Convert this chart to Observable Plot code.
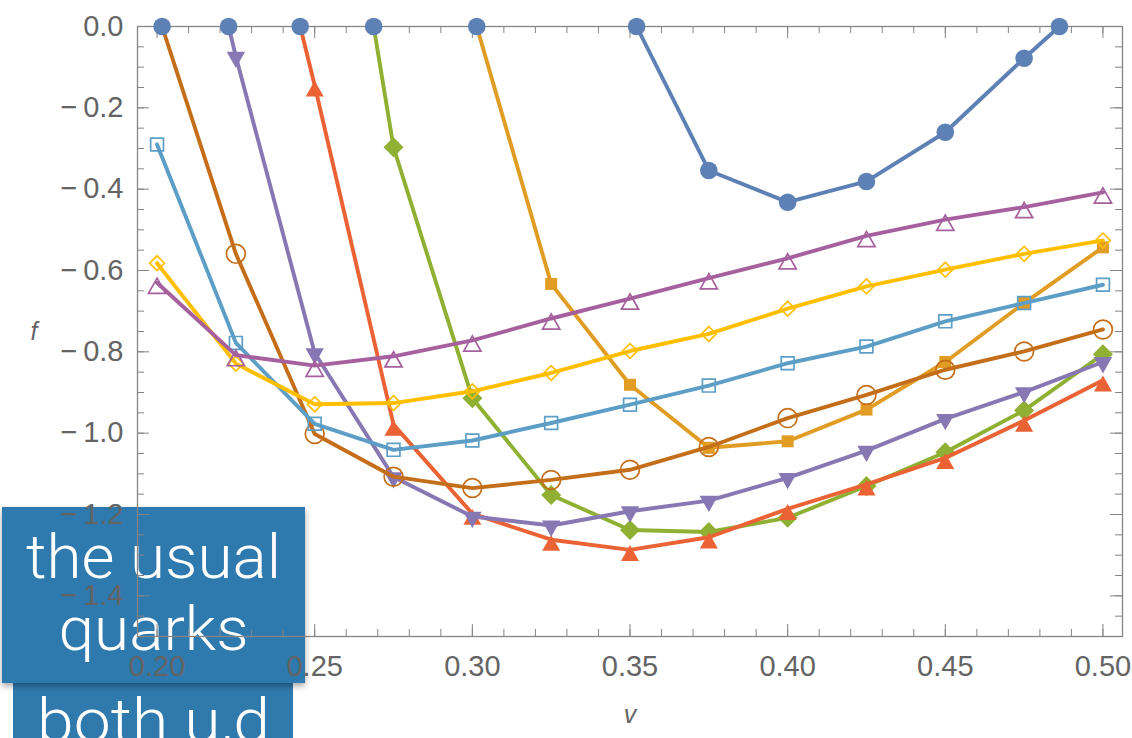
<!DOCTYPE html>
<html><head><meta charset="utf-8">
<script src="https://cdn.jsdelivr.net/npm/d3@7"></script>
<script src="https://cdn.jsdelivr.net/npm/@observablehq/plot@0.6"></script>
<style>
html,body{margin:0;padding:0;background:#fff;}
#wrap{position:relative;width:1132px;height:738px;overflow:hidden;background:#fff;}
#wrap svg{position:absolute;left:0;top:0;}
</style></head><body>
<div id="wrap"></div>
<script>
// ---------- data ----------
const v = [0.200,0.225,0.250,0.275,0.300,0.325,0.350,0.375,0.400,0.425,0.450,0.475,0.500];
const fBlue      = [null,null,null,null,null,null,null,-0.354,-0.432,-0.381,-0.260,-0.078,null];
const fOrange    = [null,null,null,null,null,-0.633,-0.881,-1.036,-1.020,-0.942,-0.825,-0.680,-0.543];
const fGreen     = [null,null,null,-0.297,-0.914,-1.152,-1.238,-1.243,-1.208,-1.130,-1.047,-0.944,-0.806];
const fRed       = [null,null,-0.145,-0.979,-1.198,-1.262,-1.287,-1.256,-1.186,-1.126,-1.061,-0.969,-0.870];
const fPurple    = [null,-0.074,-0.803,-1.108,-1.205,-1.227,-1.192,-1.166,-1.110,-1.043,-0.965,-0.899,-0.825];
const fBrown     = [null,-0.559,-1.002,-1.107,-1.135,-1.115,-1.090,-1.034,-0.963,-0.906,-0.844,-0.799,-0.745];
const fLightBlue = [-0.290,-0.778,-0.977,-1.041,-1.018,-0.975,-0.930,-0.883,-0.828,-0.787,-0.725,-0.680,-0.635];
const fYellow    = [-0.582,-0.829,-0.929,-0.926,-0.897,-0.852,-0.798,-0.756,-0.694,-0.639,-0.598,-0.559,-0.526];
const fMagenta   = [-0.630,-0.808,-0.834,-0.811,-0.772,-0.718,-0.669,-0.619,-0.570,-0.515,-0.475,-0.444,-0.408];
// points where curves reach f = 0 (drawn as filled blue circles)
const zeroV      = [0.2016,0.2227,0.2454,0.2687,0.3014,0.3521,0.4862];
const zeroSeries = [5,4,3,2,1,0,0];

const xTicks = [0.20,0.25,0.30,0.35,0.40,0.45,0.50];
const yTicks = [0.0,-0.2,-0.4,-0.6,-0.8,-1.0,-1.2,-1.4];
const xLabel = "v";
const yLabel = "f";
const boxText1 = ["the usual","quarks"];
const boxText2 = ["both u,d"];

// ---------- styles ----------
const fSeries = [fBlue,fOrange,fGreen,fRed,fPurple,fBrown,fLightBlue,fYellow,fMagenta];
const colors = ["#5E81B5","#E19C24","#8FB032","#EB6235","#8778B3","#C56E1A","#5D9EC7","#FFBF00","#A5609D"];
const rad = (size) => Math.sqrt(size/Math.PI);
const symSquare = {draw(c,s){const r=rad(s);c.moveTo(-r,-r);c.lineTo(r,-r);c.lineTo(r,r);c.lineTo(-r,r);c.closePath();}};
const symDiamond = {draw(c,s){const r=rad(s);c.moveTo(0,-r);c.lineTo(r,0);c.lineTo(0,r);c.lineTo(-r,0);c.closePath();}};
const symTriUp = {draw(c,s){const r=rad(s),h=1.77*r;c.moveTo(0,-0.3*h);c.lineTo(r,0.7*h);c.lineTo(-r,0.7*h);c.closePath();}};
const symTriDown = {draw(c,s){const r=rad(s),h=1.77*r;c.moveTo(-r,-0.3*h);c.lineTo(r,-0.3*h);c.lineTo(0,0.7*h);c.closePath();}};
const markers = [
  {symbol:"circle", r:8.8, open:false},
  {symbol:symSquare, r:6.0, open:false},
  {symbol:symDiamond, r:10.0, open:false},
  {symbol:symTriUp, r:9.0, open:false},
  {symbol:symTriDown, r:9.2, open:false},
  {symbol:"circle", r:9.4, open:true},
  {symbol:symSquare, r:6.4, open:true},
  {symbol:symDiamond, r:7.4, open:true},
  {symbol:symTriUp, r:8.6, open:true}
];

const W = 1132, H = 738, mL = 137, mR = 10, mT = 26, mB = 102;
const xDom = [0.1938, 0.5062], yDom = [-1.5, 0];
const kX = (W-mL-mR)/(xDom[1]-xDom[0]);
const kY = (H-mT-mB)/(yDom[1]-yDom[0]);
const frameGray = "#858585", labelGray = "#646464";
const xMinor = d3.range(20, 51).map(d => d/100);
const yMinor = d3.range(0, 31).map(d => -d*0.05);
const majorLen = 12, minorLen = 7;

// ---------- background boxes (overlay annotation) ----------
const bg = d3.select("#wrap").append("svg").attr("width",W).attr("height",H);
const defs = bg.append("defs");
const sh = defs.append("filter").attr("id","shadow").attr("x","-10%").attr("y","-10%").attr("width","120%").attr("height","130%");
sh.append("feDropShadow").attr("dx",0).attr("dy",3).attr("stdDeviation",3).attr("flood-color","#000").attr("flood-opacity",0.35);
const boxColor = "#2f79ad";
bg.append("rect").attr("x",13).attr("y",667).attr("width",280).attr("height",90).attr("fill",boxColor);
bg.append("rect").attr("x",2).attr("y",507).attr("width",303).attr("height",176).attr("fill",boxColor).attr("filter","url(#shadow)");
const boxFont = "Roboto, 'Liberation Sans', sans-serif";
const addText = (t, x, y, len) => bg.append("text").attr("x",x).attr("y",y).attr("text-anchor","middle")
  .attr("fill","#fff").attr("font-family",boxFont).attr("font-weight",300).attr("font-size",62)
  .attr("textLength",len).attr("lengthAdjust","spacingAndGlyphs").text(t);
addText(boxText1[0], 153.5, 578, 255);
addText(boxText1[1], 153.5, 650, 190);
addText(boxText2[0], 153.5, 741.5, 233);

// ---------- chart ----------
const marks = [];
fSeries.forEach((fs, i) => {
  const pts = v.map((x, j) => ({v: x, f: fs[j]})).filter(d => d.f != null);
  const line = pts.concat(zeroV.filter((z, k) => zeroSeries[k] === i).map(z => ({v: z, f: 0})))
    .sort((a, b) => a.v - b.v);
  marks.push(Plot.line(line, {x: "v", y: "f", stroke: colors[i], strokeWidth: 3.9, strokeLinejoin: "round"}));
  const m = markers[i];
  marks.push(Plot.dot(pts, m.open
    ? {x: "v", y: "f", symbol: m.symbol, r: m.r, fill: "none", stroke: colors[i], strokeWidth: 1.7}
    : {x: "v", y: "f", symbol: m.symbol, r: m.r, fill: colors[i], stroke: "none"}));
});
marks.push(Plot.dot(zeroV.map(z => ({v: z, f: 0})), {x: "v", y: "f", r: 8.8, fill: colors[0], stroke: "none"}));

const chart = Plot.plot({
  width: W, height: H,
  marginLeft: mL, marginRight: mR, marginTop: mT, marginBottom: mB,
  style: {background: "transparent", overflow: "visible", fontFamily: "'Liberation Sans', Arial, sans-serif"},
  x: {domain: xDom},
  y: {domain: yDom},
  marks: [
    // inward ticks on all four sides
    Plot.ruleX(xMinor, {y1: yDom[0], y2: yDom[0] + minorLen/kY, stroke: frameGray}),
    Plot.ruleX(xTicks, {y1: yDom[0], y2: yDom[0] + majorLen/kY, stroke: frameGray}),
    Plot.ruleX(xMinor, {y1: yDom[1], y2: yDom[1] - minorLen/kY, stroke: frameGray}),
    Plot.ruleX(xTicks, {y1: yDom[1], y2: yDom[1] - majorLen/kY, stroke: frameGray}),
    Plot.ruleY(yMinor, {x1: xDom[0], x2: xDom[0] + minorLen/kX, stroke: frameGray}),
    Plot.ruleY(yTicks, {x1: xDom[0], x2: xDom[0] + majorLen/kX, stroke: frameGray}),
    Plot.ruleY(yMinor, {x1: xDom[1], x2: xDom[1] - minorLen/kX, stroke: frameGray}),
    Plot.ruleY(yTicks, {x1: xDom[1], x2: xDom[1] - majorLen/kX, stroke: frameGray}),
    Plot.frame({stroke: frameGray, strokeWidth: 1.3}),
    Plot.axisX(xTicks, {tickSize: 0, tickPadding: 19, tickFormat: d => d.toFixed(2), fontSize: 29, fill: labelGray, label: null}),
    Plot.axisY(yTicks, {tickSize: 0, tickPadding: 14, tickFormat: d => d === 0 ? "0.0" : "\u2212\u2009" + Math.abs(d).toFixed(1), fontSize: 29, fill: labelGray, label: null}),
    Plot.text([yLabel], {text: d => d, frameAnchor: "left", dx: -107, fontStyle: "italic", fontSize: 25, fill: labelGray}),
    Plot.text([xLabel], {text: d => d, frameAnchor: "bottom", dy: 86, fontStyle: "italic", fontSize: 25, fill: labelGray}),
    ...marks
  ]
});
document.getElementById("wrap").appendChild(chart);
</script>
</body></html>
